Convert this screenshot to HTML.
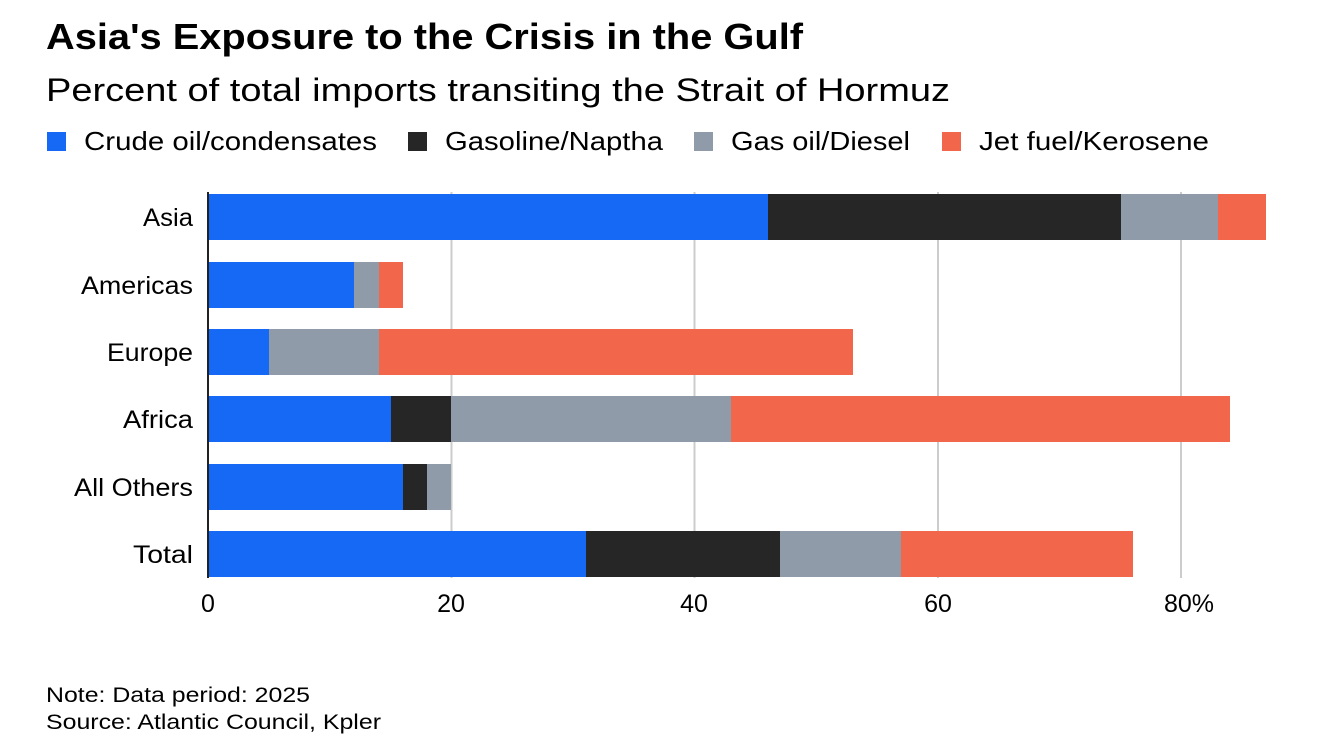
<!DOCTYPE html>
<html><head><meta charset="utf-8"><style>
body{margin:0;background:#fff;}
svg text{font-family:"Liberation Sans",sans-serif;}
</style></head><body>
<svg width="1318" height="742" xmlns="http://www.w3.org/2000/svg">
<rect width="1318" height="742" fill="#fff"/>
<text x="46" y="49" font-size="36" font-weight="bold" fill="#000" textLength="757" lengthAdjust="spacingAndGlyphs">Asia's Exposure to the Crisis in the Gulf</text>
<text x="46" y="101" font-size="32" fill="#000" textLength="904" lengthAdjust="spacingAndGlyphs">Percent of total imports transiting the Strait of Hormuz</text>
<g font-size="26" fill="#000">
<rect x="47" y="132" width="19" height="19" fill="#1569f5"/><text x="84" y="150" textLength="293" lengthAdjust="spacingAndGlyphs">Crude oil/condensates</text>
<rect x="408" y="132" width="19" height="19" fill="#262626"/><text x="445" y="150" textLength="218" lengthAdjust="spacingAndGlyphs">Gasoline/Naptha</text>
<rect x="694" y="132" width="19" height="19" fill="#8f9ba8"/><text x="731" y="150" textLength="179" lengthAdjust="spacingAndGlyphs">Gas oil/Diesel</text>
<rect x="942" y="132" width="19" height="19" fill="#f2664c"/><text x="979" y="150" textLength="230" lengthAdjust="spacingAndGlyphs">Jet fuel/Kerosene</text>
</g>
<g stroke="#ccc" stroke-width="2">
<line x1="451.5" y1="192" x2="451.5" y2="578"/>
<line x1="694.5" y1="192" x2="694.5" y2="578"/>
<line x1="938" y1="192" x2="938" y2="578"/>
<line x1="1181" y1="192" x2="1181" y2="578"/>
</g>
<g>
<rect x="208" y="194" width="560" height="46" fill="#1569f5"/><rect x="768" y="194" width="353" height="46" fill="#262626"/><rect x="1121" y="194" width="97" height="46" fill="#8f9ba8"/><rect x="1218" y="194" width="48" height="46" fill="#f2664c"/>
<rect x="208" y="262" width="146" height="46" fill="#1569f5"/><rect x="354" y="262" width="25" height="46" fill="#8f9ba8"/><rect x="379" y="262" width="24" height="46" fill="#f2664c"/>
<rect x="208" y="329" width="61" height="46" fill="#1569f5"/><rect x="269" y="329" width="110" height="46" fill="#8f9ba8"/><rect x="379" y="329" width="474" height="46" fill="#f2664c"/>
<rect x="208" y="396" width="183" height="46" fill="#1569f5"/><rect x="391" y="396" width="60" height="46" fill="#262626"/><rect x="451" y="396" width="280" height="46" fill="#8f9ba8"/><rect x="731" y="396" width="499" height="46" fill="#f2664c"/>
<rect x="208" y="464" width="195" height="46" fill="#1569f5"/><rect x="403" y="464" width="24" height="46" fill="#262626"/><rect x="427" y="464" width="24" height="46" fill="#8f9ba8"/>
<rect x="208" y="531" width="378" height="46" fill="#1569f5"/><rect x="586" y="531" width="194" height="46" fill="#262626"/><rect x="780" y="531" width="121" height="46" fill="#8f9ba8"/><rect x="901" y="531" width="232" height="46" fill="#f2664c"/>
</g>
<line x1="208" y1="192" x2="208" y2="578" stroke="#222" stroke-width="2"/>
<g font-size="25" fill="#000">
<text x="143" y="226" textLength="50" lengthAdjust="spacingAndGlyphs">Asia</text>
<text x="81" y="294" textLength="112" lengthAdjust="spacingAndGlyphs">Americas</text>
<text x="107" y="361" textLength="86" lengthAdjust="spacingAndGlyphs">Europe</text>
<text x="123" y="428" textLength="70" lengthAdjust="spacingAndGlyphs">Africa</text>
<text x="74" y="496" textLength="119" lengthAdjust="spacingAndGlyphs">All Others</text>
<text x="133" y="563" textLength="60" lengthAdjust="spacingAndGlyphs">Total</text>
</g>
<g font-size="25" fill="#000" text-anchor="middle">
<text x="208" y="612">0</text>
<text x="451" y="612">20</text>
<text x="694" y="612">40</text>
<text x="938" y="612">60</text>
<text x="1189" y="612">80%</text>
</g>
<text x="46" y="702" font-size="21" fill="#000" textLength="264" lengthAdjust="spacingAndGlyphs">Note: Data period: 2025</text>
<text x="46" y="729" font-size="21" fill="#000" textLength="335" lengthAdjust="spacingAndGlyphs">Source: Atlantic Council, Kpler</text>
</svg>
</body></html>
